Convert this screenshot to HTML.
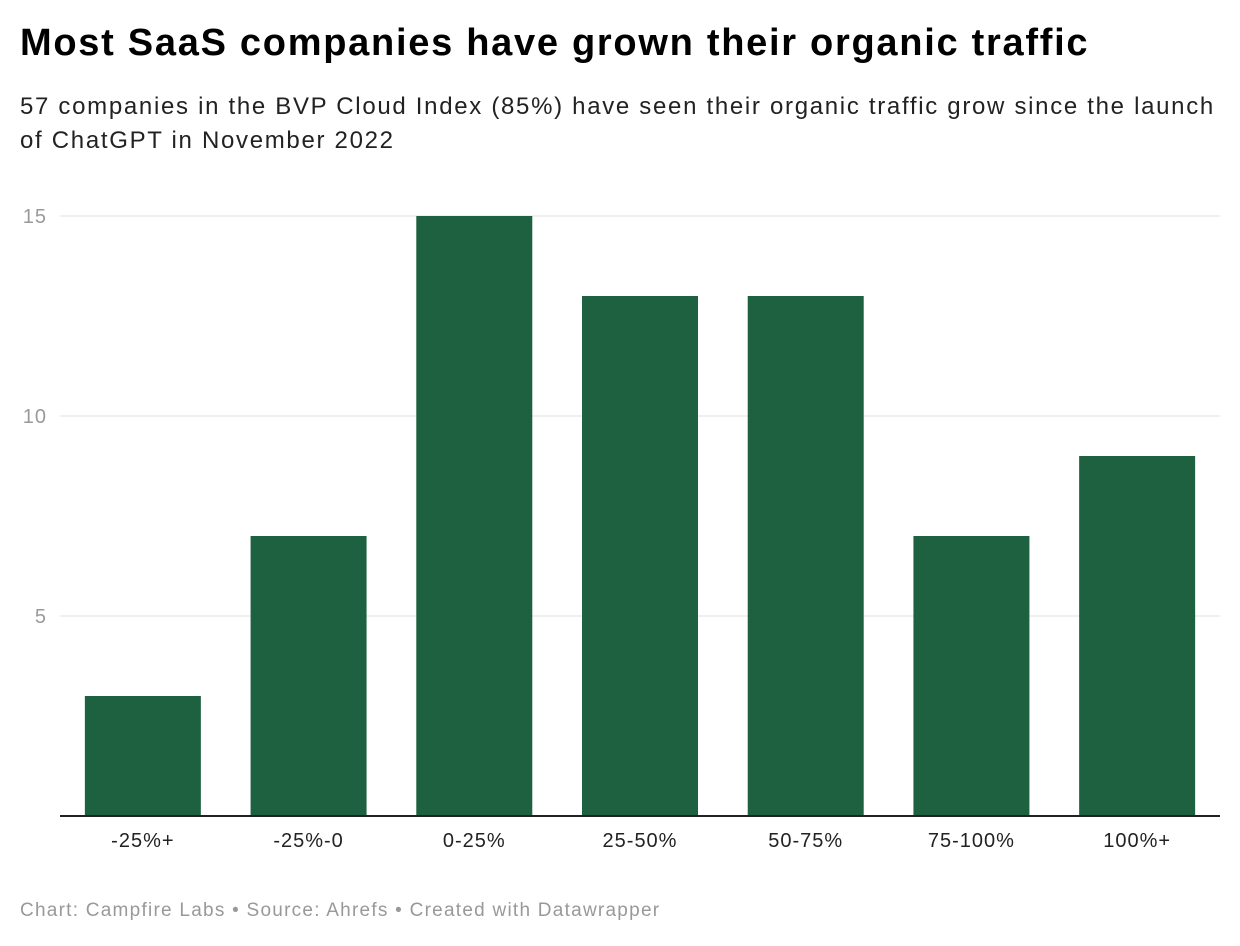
<!DOCTYPE html>
<html><head><meta charset="utf-8">
<style>
body{margin:0;background:#fff;font-family:"Liberation Sans",Arial,sans-serif;}
#wrap{position:relative;width:1240px;height:946px;overflow:hidden;}
h1{position:absolute;left:20px;top:22px;margin:0;font-size:38px;font-weight:bold;color:#000;letter-spacing:1.72px;white-space:nowrap;}
#sub{position:absolute;left:20px;top:90px;margin:0;font-size:24px;line-height:34px;color:#222;width:1220px;letter-spacing:1.69px;white-space:nowrap;}
#foot{position:absolute;left:20px;top:900px;font-size:19px;color:#999;letter-spacing:1.25px;}
svg{position:absolute;left:0;top:0;}
</style></head><body>
<div id="wrap">
<h1>Most SaaS companies have grown their organic traffic</h1>
<p id="sub">57 companies in the BVP Cloud Index (85%) have seen their organic traffic grow since the launch<br>of ChatGPT in November 2022</p>
<svg id="chart" width="1240" height="946"></svg>
<div id="foot">Chart: Campfire Labs • Source: Ahrefs • Created with Datawrapper</div>
</div>
<script>
const categories=["-25%+","-25%-0","0-25%","25-50%","50-75%","75-100%","100%+"];
const values=[3,7,15,13,13,7,9];
const yTicks=[5,10,15];
const NS="http://www.w3.org/2000/svg";
const svg=document.getElementById('chart');
const x0=60,x1=1220,yTop=216,yBase=816,yMax=15;
const band=(x1-x0)/categories.length,bw=116;
function y(v){return yBase-(v/yMax)*(yBase-yTop);}
function xb(i){return x0+i*band+(band-bw)/2;}
function mk(t,a){const e=document.createElementNS(NS,t);for(const k in a)e.setAttribute(k,a[k]);svg.appendChild(e);return e;}
yTicks.forEach(t=>{
 const g=mk('line',{x1:60,x2:1220,y1:y(t),y2:y(t),stroke:'#e0e0e0','stroke-width':1});
 
 
 const l=mk('text',{x:47,y:y(t)+7,'text-anchor':'end','font-size':20,fill:'#9a9a9a','font-family':'Liberation Sans, sans-serif','letter-spacing':1});
 l.textContent=t;
 
 
});
categories.forEach((c,i)=>{
 const r=mk('rect',{x:xb(i),y:y(values[i]),width:bw,height:yBase-y(values[i]),fill:'#1e6140'});
 
 
 const t=mk('text',{x:xb(i)+bw/2,y:847,'text-anchor':'middle','font-size':20,fill:'#222','font-family':'Liberation Sans, sans-serif','letter-spacing':1});
 t.textContent=c;
 
 
});
const b=mk('line',{x1:60,x2:1220,y1:yBase,y2:yBase,stroke:'#222','stroke-width':2});


</script>
</body></html>
